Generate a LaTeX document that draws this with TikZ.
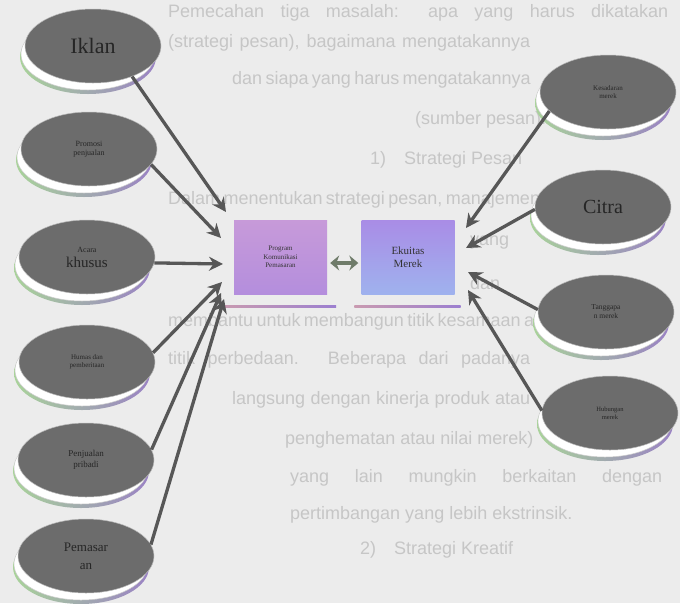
\documentclass[tikz,border=0pt]{standalone}
\usepackage{fontspec}
\setmainfont{Liberation Serif}
\newfontfamily\bgfont{Liberation Sans}
\usetikzlibrary{arrows.meta,shapes.geometric}
\definecolor{paper}{HTML}{ECECEC}
\definecolor{ghost}{HTML}{C6C6C6}
\definecolor{ellfill}{HTML}{6C6C6C}
\definecolor{arrowc}{HTML}{575757}
\definecolor{rimg}{HTML}{A9D39A}
\definecolor{rimp}{HTML}{9A82C4}
\definecolor{dblc}{HTML}{6F7C6A}
\definecolor{pa}{HTML}{C79AD9}
\definecolor{pb}{HTML}{BFA6C8}
\definecolor{pc}{HTML}{B48EDD}
\definecolor{ea}{HTML}{A98CE6}
\definecolor{eb}{HTML}{CDA0C0}
\definecolor{ec}{HTML}{9FB2EE}
\definecolor{ula}{HTML}{C99AB0}
\definecolor{ulb}{HTML}{9C7FD0}
\newcommand\bgline[4]{\node[bgtext,anchor=west] (#1) at (#2,#3) {#4};}
\newcommand\bgjust[5]{\node[bgtext,anchor=west] (#1) at (#2,#3) {\makebox[#4pt][s]{#5}};}
\newcommand\bubble[5]{%
  \shade[left color=rimg,right color=rimp] (#2-5,#3+11) ellipse [x radius=68,y radius=37];
  \fill[white] (#2-5,#3+8) ellipse [x radius=67,y radius=36];
  \draw[gray!40,line width=0.5pt] (#2-5,#3+8) ellipse [x radius=67,y radius=36];
  \node[bub,font=#4] (#1) at (#2,#3) {#5};}
\begin{document}
\begin{tikzpicture}[x=1pt,y=-1pt,
  bgtext/.style={font=\bgfont\fontsize{18}{19}\selectfont,text=ghost,inner sep=0pt},
  bub/.style={ellipse,fill=ellfill,draw=gray!55,line width=0.5pt,minimum width=136pt,
    minimum height=74pt,inner sep=0pt,align=center,text=black!85},
  boxp/.style={rectangle,minimum width=93pt,minimum height=74pt,inner sep=0pt,align=center,text=black!80},
  arr/.style={draw=arrowc,line width=3.3pt,-{Stealth[length=14pt,width=14pt]}},
  dbl/.style={draw=dblc,line width=4pt,{Stealth[length=9pt,width=15pt]}-{Stealth[length=9pt,width=15pt]}},
  uline/.style={line width=2.4pt,left color=ula,right color=ulb}]
\fill[paper] (0,0) rectangle (680,603);
\useasboundingbox (0,0) rectangle (680,603);
% faint page text
\bgjust{b1}{168}{13}{500}{Pemecahan tiga masalah: apa yang harus dikatakan}
\bgjust{b2}{168}{43}{362}{(strategi pesan), bagaimana mengatakannya}
\bgjust{b3}{232}{80}{298}{dan siapa yang harus mengatakannya}
\bgline{b4}{415}{120}{(sumber pesan).}
\bgline{b5}{370}{160}{1)\quad Strategi Pesan}
\bgjust{b6}{168}{200}{358}{Dalam menentukan strategi pesan, manajemen}
\bgline{b7}{470}{243}{yang}
\bgline{b8}{470}{283}{dan}
\bgjust{b9}{168}{322}{362}{membantu untuk membangun titik kesamaan atau}
\bgjust{b10}{168}{360}{362}{titik perbedaan. Beberapa dari padanya}
\bgjust{b11}{232}{400}{298}{langsung dengan kinerja produk atau}
\bgline{b12}{285}{440}{penghematan atau nilai merek)}
\bgjust{b13}{290}{478}{372}{yang lain mungkin berkaitan dengan}
\bgline{b14}{290}{515}{pertimbangan yang lebih ekstrinsik.}
\bgline{b15}{360}{550}{2)\quad Strategi Kreatif}
% left bubbles
\bubble{iklan}{93}{46}{\fontsize{22}{24}\selectfont}{Iklan}
\bubble{promosi}{89}{149}{\fontsize{8}{9.5}\selectfont}{Promosi\\penjualan}
\bubble{acara}{87}{257}{\fontsize{15}{15}\selectfont}{{\fontsize{8}{9}\selectfont Acara}\\khusus}
\bubble{humas}{87}{362}{\fontsize{7}{8.5}\selectfont}{Humas dan\\pemberitaan}
\bubble{pribadi}{86}{460}{\fontsize{9}{11}\selectfont}{Penjualan\\pribadi}
\bubble{pemasaran}{86}{556}{\fontsize{13}{18}\selectfont}{Pemasar\\an}
% right bubbles
\bubble{sadar}{608}{92}{\fontsize{7}{8.5}\selectfont}{Kesadaran\\merek}
\bubble{citra}{603}{207}{\fontsize{20}{22}\selectfont}{Citra}
\bubble{tanggap}{606}{312}{\fontsize{7.5}{9}\selectfont}{Tanggapa\\n merek}
\bubble{hubung}{610}{413}{\fontsize{6.5}{8}\selectfont}{Hubungan\\merek}
% centre boxes
\node[boxp,top color=pa,middle color=pb,bottom color=pc,font=\fontsize{7}{8.5}\selectfont] (prog) at (280.5,257)
  {Program\\Komunikasi\\Pemasaran};
\node[boxp,top color=ea,middle color=eb,bottom color=ec,font=\fontsize{11}{13}\selectfont] (ekuitas) at (408,257)
  {Ekuitas\\Merek};
\shade[uline] ([xshift=-12pt,yshift=-11pt]prog.south west) rectangle ([xshift=9pt,yshift=-13.4pt]prog.south east);
\shade[uline] ([xshift=-7pt,yshift=-11pt]ekuitas.south west) rectangle ([xshift=6pt,yshift=-13.4pt]ekuitas.south east);
\draw[dbl] ([xshift=3pt,yshift=-6pt]prog.east) -- ([xshift=-3pt,yshift=-6pt]ekuitas.west);
% arrow tips
\coordinate (tI) at (226,212);
\coordinate (tP) at (221,238);
\coordinate (tA) at (223,264);
\coordinate (tH) at (222,282);
\coordinate (tJ) at (221,293);
\coordinate (tM) at (224,299);
\coordinate (tK) at (466,228);
\coordinate (tC) at (466,248);
\coordinate (tT) at (468,272);
\coordinate (tB) at (468,290);
\draw[arr] (iklan.-38) -- (tI);
\draw[arr] (promosi.-14) -- (tP);
\draw[arr] (acara.-5) -- (tA);
\draw[arr] (humas.8) -- (tH);
\draw[arr] (pribadi.9) -- (tJ);
\draw[arr] (pemasaran.10) -- (tM);
\draw[arr] (sadar.198) -- (tK);
\draw[arr] (citra.182) -- (tC);
\draw[arr] (tanggap.178) -- (tT);
\draw[arr] (hubung.178) -- (tB);
\end{tikzpicture}
\end{document}
